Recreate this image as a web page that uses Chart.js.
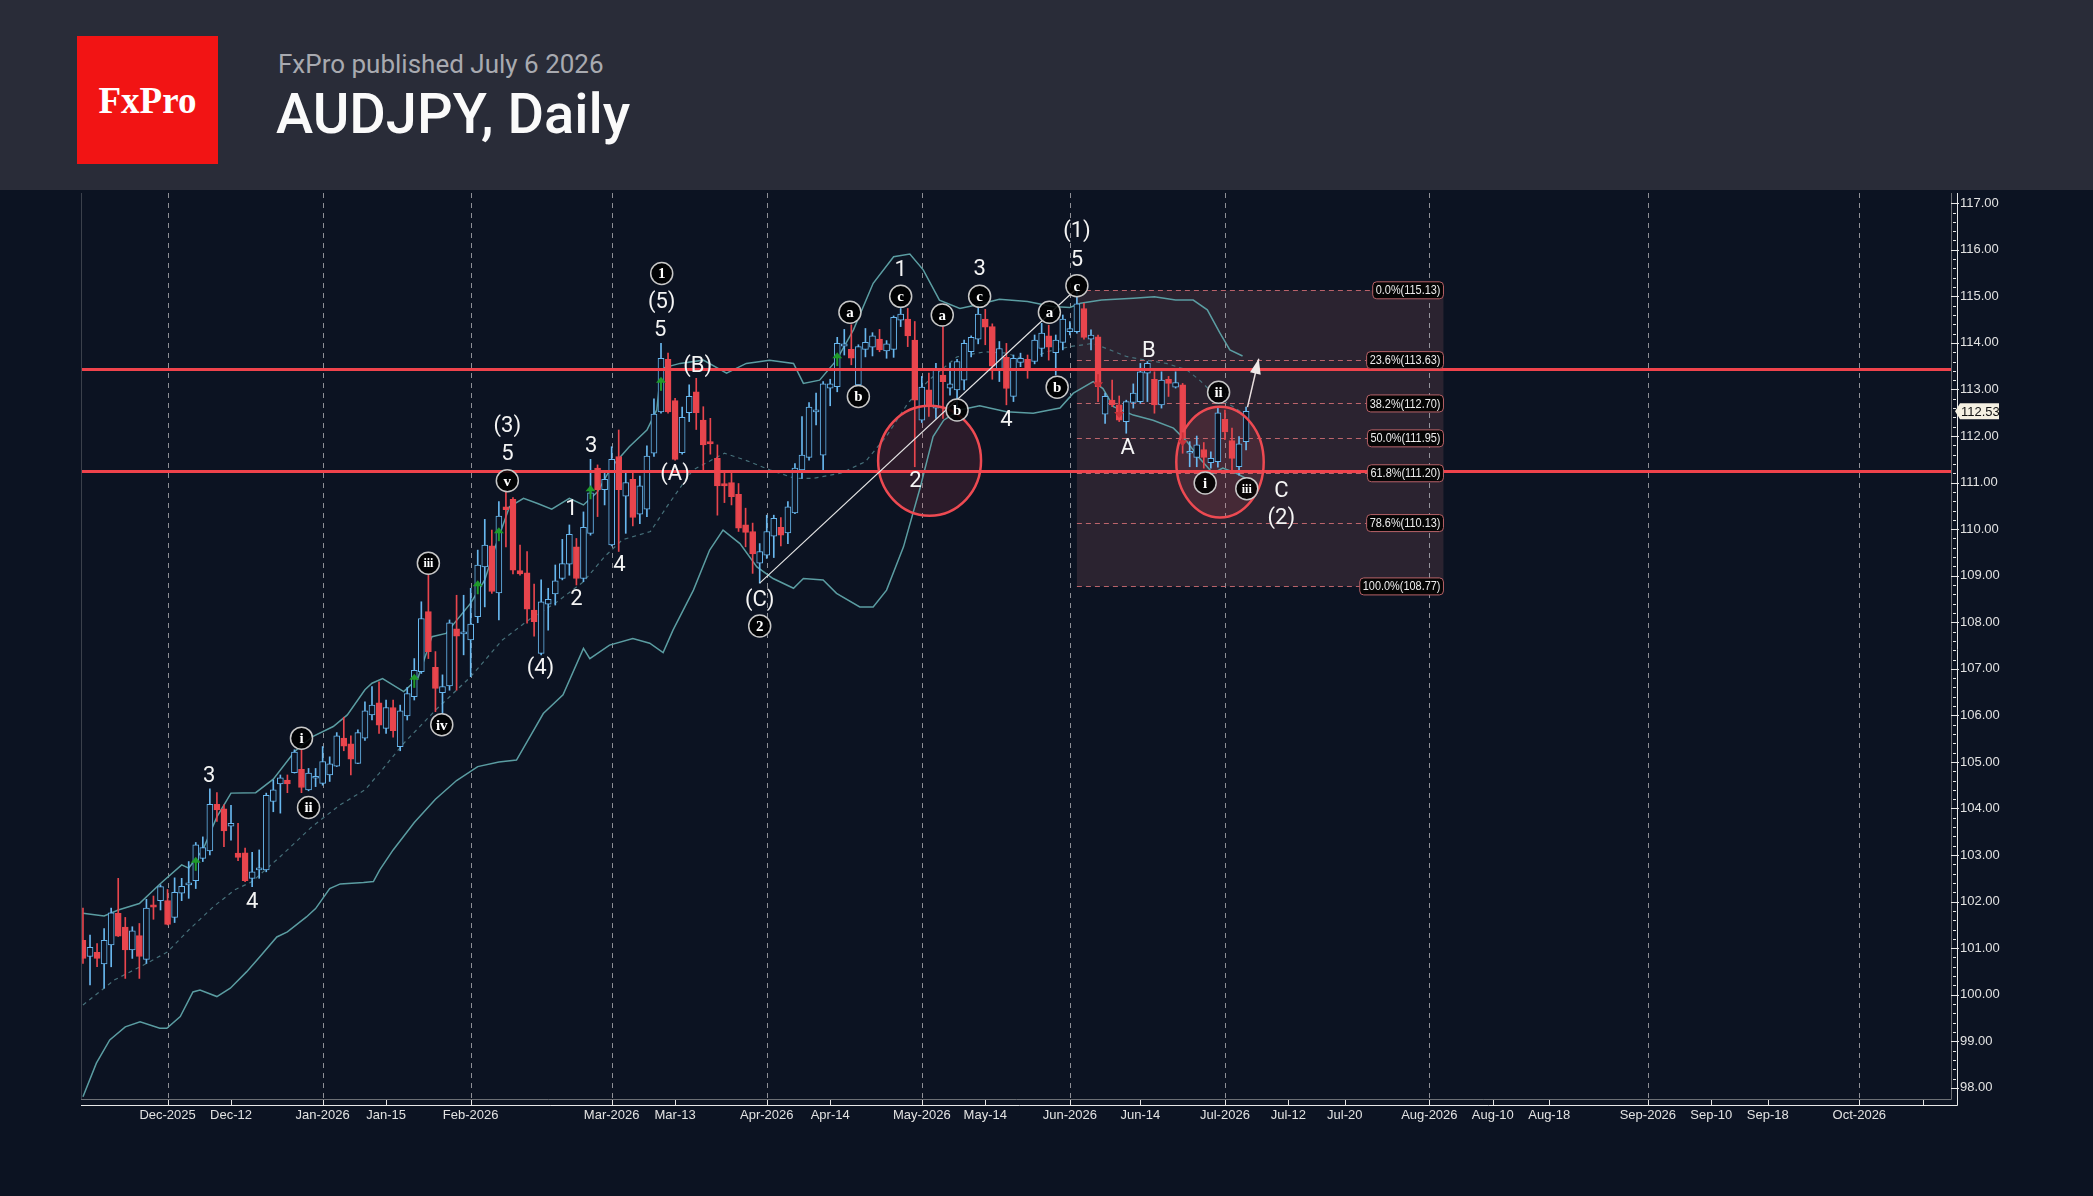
<!DOCTYPE html>
<html lang="en">
<head>
<meta charset="UTF-8" />
<title>AUDJPY, Daily</title>
<script src="https://cdn.jsdelivr.net/npm/chart.js@4.4.1/dist/chart.umd.min.js"></script>
<style>
  html, body { margin: 0; padding: 0; background: #0c1322; width: 2093px; height: 1196px; overflow: hidden; }
  #head { position: relative; height: 190px; background: #292c38; }
  #logo { position: absolute; left: 77px; top: 36px; width: 141px; height: 128px; background: #f21414;
          color: #fff; font-family: 'Liberation Serif', serif; font-size: 37px; font-weight: bold;
          display: flex; align-items: center; justify-content: center; }
  #pub { position: absolute; left: 278px; top: 51px; font-family: Roboto, sans-serif; font-size: 26px; line-height: 26px; color: #a8aab0; }
  #title { position: absolute; left: 276px; top: 86px; font-family: Roboto, sans-serif; font-weight: 500; font-size: 56px; line-height: 56px; color: #fafafa; }
  canvas { display: block; }
</style>
</head>
<body>
<div id="head">
  <div id="logo">FxPro</div>
  <div id="pub">FxPro published July 6 2026</div>
  <div id="title">AUDJPY, Daily</div>
</div>
<canvas id="chart" width="2093" height="1006"></canvas>

<script>
// daily candles, bar index 0 = Nov 13 2025 ... 165 = Jul 6 2026
const open = [
101.17,100.82,100.91,100.66,101.07,101.75,101.45,100.96,101.27,100.76,
101.93,102.02,102.02,101.66,102.18,102.36,102.45,102.93,103.09,104.09,
103.99,103.62,103.04,103.05,102.50,102.68,102.68,104.15,104.53,104.61,
104.77,104.84,104.40,104.65,104.54,104.72,104.91,105.51,105.39,104.97,
105.51,106.01,106.27,105.72,106.17,105.33,105.99,106.40,106.94,108.23,
107.03,106.49,106.63,107.86,107.75,107.62,108.12,109.19,109.64,108.63,
110.48,110.64,109.11,109.06,108.26,107.33,108.39,108.61,108.94,109.25,
109.62,108.94,109.91,111.31,110.85,109.66,111.56,110.71,111.07,110.32,
110.43,111.63,112.52,113.65,112.76,111.64,112.50,112.95,112.34,111.88,
111.52,110.98,111.00,110.75,110.09,109.95,109.27,109.44,109.85,110.04,
109.92,110.35,111.27,111.54,112.52,111.59,113.03,113.06,113.93,113.86,
113.10,113.86,113.91,114.08,113.83,113.86,114.49,114.51,114.06,112.34,
112.99,112.60,113.31,113.03,112.99,113.20,113.81,114.08,114.51,114.35,
113.43,113.69,112.85,113.58,113.65,113.60,113.88,114.15,113.79,114.01,
114.24,114.24,114.74,114.08,114.13,112.47,112.77,112.67,112.31,112.72,
112.74,113.35,113.22,112.67,113.22,113.05,113.10,111.63,111.54,111.71,
111.43,111.45,112.36,111.90,111.34,111.88];
const high = [
101.86,101.28,101.10,101.42,101.86,102.50,101.66,101.46,101.53,102.05,
102.12,102.36,102.26,102.51,102.50,102.86,103.27,103.39,104.42,104.34,
104.08,104.07,103.68,103.15,103.06,103.11,104.33,104.61,104.72,104.72,
105.26,105.26,104.86,104.86,105.33,105.11,105.63,105.96,105.56,105.69,
106.29,106.62,106.72,106.33,106.33,106.22,106.60,107.22,108.44,109.02,
107.37,106.87,108.05,108.58,108.58,108.73,109.55,110.21,109.98,110.59,
110.83,110.68,109.66,109.52,108.82,108.91,108.73,109.23,109.78,110.09,
109.80,110.37,111.50,111.38,111.26,111.77,112.13,111.23,111.26,111.14,
111.79,112.80,113.99,113.78,112.81,112.62,113.10,113.24,112.63,112.38,
111.81,111.20,111.21,110.98,110.45,110.13,109.69,110.30,110.30,110.25,
110.59,111.41,112.42,112.72,112.92,113.17,113.22,114.12,114.29,114.39,
113.96,114.31,114.22,114.29,114.05,114.58,114.74,114.74,114.46,113.28,
113.35,113.56,114.35,113.56,113.65,114.06,114.15,114.79,114.72,114.41,
114.03,113.99,113.74,113.78,113.74,114.17,114.42,114.38,114.17,114.60,
114.46,115.13,114.85,114.28,114.17,112.92,113.20,112.86,112.77,113.12,
113.56,113.60,113.38,113.38,113.28,113.38,113.13,111.88,112.00,111.86,
111.66,112.62,112.56,112.17,111.99,112.62];
const low = [
100.67,100.21,100.60,100.14,100.60,101.25,100.35,100.78,100.35,100.67,
101.62,101.82,101.50,101.55,102.02,102.07,102.28,102.86,103.00,103.72,
103.18,103.32,102.88,102.43,102.32,102.50,102.64,103.93,103.90,104.34,
104.76,104.34,104.38,104.47,104.50,104.58,104.90,105.24,104.72,104.96,
105.46,105.90,105.61,105.61,105.53,105.24,105.90,106.33,106.90,107.22,
106.08,106.01,106.54,106.54,107.30,106.83,107.99,108.33,108.62,108.05,
109.62,109.04,109.01,107.98,107.70,107.30,107.83,108.37,108.91,109.01,
108.80,108.87,109.87,110.27,110.52,109.64,109.52,109.91,110.07,110.12,
110.27,111.56,112.49,112.49,111.48,111.61,112.31,112.14,111.27,111.61,
110.30,110.57,110.52,109.95,109.62,109.05,108.84,109.37,109.39,109.64,
109.69,110.33,111.09,111.48,112.24,111.28,112.65,112.95,113.74,113.53,
113.06,113.70,113.72,113.81,113.67,113.69,114.35,113.92,111.34,112.29,
112.42,112.38,112.38,112.88,112.60,112.99,113.70,113.98,113.96,113.22,
113.17,112.67,112.74,113.49,113.24,113.55,113.71,113.63,113.31,113.85,
114.17,114.21,114.08,113.85,112.74,112.27,112.63,112.31,112.06,112.60,
112.70,112.74,112.49,112.60,112.85,113.03,111.63,111.34,111.34,111.31,
111.31,111.33,111.92,111.27,111.16,111.70];
const close = [
100.78,101.02,100.78,101.17,101.76,101.26,100.96,101.37,100.82,101.86,
101.88,102.32,101.51,102.20,102.33,102.39,103.22,103.16,104.09,103.97,
103.52,103.68,102.95,102.45,102.64,102.71,104.28,104.40,104.66,104.53,
105.21,104.45,104.76,104.68,105.01,104.96,105.56,105.34,105.06,105.63,
106.10,106.22,105.79,106.17,105.67,106.10,106.47,106.97,108.08,107.37,
106.58,106.62,107.99,107.70,107.79,107.96,109.23,109.66,108.66,110.28,
110.42,109.12,109.04,108.28,108.01,108.44,108.49,108.89,109.26,109.89,
108.94,110.04,110.78,110.85,111.07,111.50,110.85,111.00,110.25,110.93,
111.57,112.47,113.67,112.52,111.50,112.40,112.85,112.50,111.81,111.83,
110.93,110.93,110.70,110.02,109.93,109.47,109.52,109.95,110.23,109.87,
110.48,111.31,111.59,112.62,112.56,113.12,113.12,113.99,113.98,113.67,
113.92,114.01,114.15,113.85,113.98,114.55,114.62,114.15,112.77,113.05,
112.67,113.42,113.17,113.12,113.60,113.99,114.12,114.62,114.34,113.50,
113.88,113.02,113.67,113.67,113.46,114.06,114.21,113.91,114.06,114.51,
114.31,114.84,114.12,114.17,113.06,112.85,112.67,112.34,112.74,112.92,
113.38,113.56,112.67,113.20,113.13,113.15,111.95,111.66,111.81,111.54,
111.52,112.50,112.09,111.52,111.83,112.53];

// Bollinger bands: [bar index, price]
const bbUpper = [[0,101.75],[3,101.69],[5,101.82],[8,101.96],[11,102.39],[14,102.79],[15,102.72],[17,103.11],
  [19,103.82],[21,104.33],[24.5,104.34],[27,104.63],[30,105.22],[32.5,105.54],[35.5,105.76],[37.5,106.01],
  [40,106.55],[41,106.69],[42.5,106.79],[45.5,106.51],[47.5,106.79],[49.5,107.69],[51.5,107.76],[55,108.41],
  [57,108.91],[58.5,109.62],[60.5,110.48],[62.5,110.66],[64.5,110.55],[66.5,110.43],[69,110.66],[71,110.52],
  [73,110.80],[75,111.34],[77.5,111.77],[80,112.13],[81.4,112.56],[82,113.45],[84.7,113.56],[88,113.63],
  [91.3,113.35],[94.1,113.56],[97.4,113.63],[100.8,113.56],[102.2,113.13],[104.5,113.20],[106.9,113.63],
  [109.3,114.28],[112.1,115.28],[115,115.85],[117.3,115.91],[119.2,115.57],[121.5,114.92],[124.4,114.74],
  [127.2,114.83],[130,114.94],[134,114.89],[137.5,114.78],[140,114.76],[141.5,114.85],[144.5,114.92],
  [149,114.96],[152,114.99],[155,114.92],[157.5,114.92],[159.5,114.71],[161.3,114.21],[162.7,113.85],[164.5,113.72]];
const bbMiddle = [[0,99.78],[4.5,100.32],[9,100.67],[12,100.92],[15,101.39],[18.5,101.89],[21.5,102.25],[24,102.43],
  [28,102.97],[32.5,103.61],[36.5,104.08],[40,104.40],[42,104.75],[45.5,105.40],[50,106.11],[55,106.83],
  [59.5,107.62],[63.5,108.08],[67,108.41],[71,108.87],[74,109.41],[76.5,109.77],[80.5,109.95],[83,110.52],
  [86.5,111.27],[91,111.63],[94,111.48],[97.5,111.27],[101,111.09],[103.5,111.09],[107.5,111.20],[111,111.45],
  [114,112.00],[117,112.70],[120,113.20],[124,113.70],[128,113.81],[131,113.78],[134,113.63],[136.7,113.81],
  [140,113.92],[143.3,113.99],[145.7,113.85],[148,113.71],[150.8,113.63],[153.7,113.56],[156.6,113.42],
  [158.4,113.20],[160.3,112.92],[162,112.74],[165,112.45]];
const bbLower = [[0,97.81],[1.9,98.53],[3.8,99.03],[6,99.31],[8.1,99.42],[10.9,99.28],[11.9,99.28],[13.8,99.53],
  [15.6,100.06],[16.6,100.10],[19,99.96],[20.9,100.14],[23.2,100.49],[25,100.80],[27.5,101.24],[29,101.35],
  [31.7,101.67],[33,101.85],[35,102.28],[36.5,102.38],[39.8,102.41],[41.2,102.43],[42.1,102.68],[44,103.11],
  [47,103.70],[50,104.20],[53,104.60],[56,104.90],[59,105.00],[61.5,105.04],[65.3,106.04],[68.1,106.44],
  [71,107.44],[71.9,107.22],[74.7,107.51],[78,107.65],[80.4,107.55],[82.3,107.35],[83.7,107.83],[86.6,108.69],
  [88.9,109.55],[90.8,109.98],[93.2,109.69],[95.6,109.19],[97.9,108.94],[100.8,108.73],[102.2,108.94],
  [105,108.91],[106.9,108.62],[110.2,108.33],[112.1,108.33],[114,108.69],[116.4,109.62],[118.8,110.91],
  [120.6,111.99],[122.1,112.34],[124.4,112.56],[127.2,112.65],[131,112.52],[134.8,112.49],[138.6,112.60],
  [140.5,112.92],[143.3,113.17],[144.7,113.02],[146.2,112.63],[149,112.45],[151.8,112.34],[154.7,112.17],
  [156.6,111.88],[158.4,111.52],[160.3,111.20],[161.7,111.31],[163.6,111.20],[165,111.09]];

// horizontal support / resistance
const levels = [113.43, 111.24];

// fibonacci retracement
const fibText = ['0.0%', '23.6%', '38.2%', '50.0%', '61.8%', '78.6%', '100.0%'];
const fibPrice = [115.13, 113.63, 112.70, 111.95, 111.20, 110.13, 108.77];
const fibFrom = 141, fibTo = 193;

// axis ticks
const xTickPos = [12, 21, 34, 43, 55, 75, 84, 97, 106, 119, 128, 140, 150, 162, 171, 179, 191, 200, 208, 222, 231, 239, 252, 261];
const xTickText = ['Dec-2025', 'Dec-12', 'Jan-2026', 'Jan-15', 'Feb-2026', 'Mar-2026', 'Mar-13', 'Apr-2026', 'Apr-14',
  'May-2026', 'May-14', 'Jun-2026', 'Jun-14', 'Jul-2026', 'Jul-12', 'Jul-20', 'Aug-2026', 'Aug-10', 'Aug-18',
  'Sep-2026', 'Sep-10', 'Sep-18', 'Oct-2026', ''];
const monthPos = [12, 34, 55, 75, 97, 119, 140, 162, 191, 222, 252];
const priceTicks = [98, 99, 100, 101, 102, 103, 104, 105, 106, 107, 108, 109, 110, 111, 112, 113, 114, 115, 116, 117];

// wave count labels
const waveText = ['3', '4', 'i', 'ii', 'iii', 'iv', '(3)', '5', 'v', '1', '2', '3', '4', '(4)', '1', '(5)', '5', '(B)', '(A)',
  '(C)', '2', 'a', 'b', '1', 'c', '2', 'a', 'b', '3', 'c', '4', 'a', 'b', '(1)', '5', 'c', 'B', 'A', 'ii', 'i', 'iii', 'C', '(2)'];
const waveX = [17.9, 24.0, 31.0, 32.0, 49.0, 50.9, 60.2, 60.2, 60.2, 69.3, 70.0, 72.1, 76.1, 64.9, 82.1, 82.1, 81.9, 87.2, 84.0,
  96.0, 96.0, 108.8, 110.0, 116.0, 116.0, 118.1, 121.9, 124.0, 127.2, 127.2, 131.0, 137.1, 138.2, 141.0, 141.0, 141.0,
  151.2, 148.2, 161.1, 159.2, 165.1, 170.0, 170.0];
const waveY = [104.71, 102.01, 105.51, 104.02, 109.27, 105.80, 112.22, 111.62, 111.04, 110.44, 108.52, 111.79, 109.24, 107.03,
  115.49, 114.89, 114.28, 113.51, 111.19, 108.49, 107.92, 114.66, 112.85, 115.58, 115.00, 111.04, 114.60, 112.56, 115.60,
  115.00, 112.36, 114.66, 113.05, 116.41, 115.80, 115.23, 113.83, 111.76, 112.94, 110.99, 110.87, 110.84, 110.24];
const waveRing = [0, 0, 1, 1, 1, 1, 0, 0, 1, 0, 0, 0, 0, 0, 1, 0, 0, 0, 0, 0, 1, 1, 1, 0, 1, 0, 1, 1, 0, 1, 0, 1, 1, 0, 0, 1,
  0, 0, 1, 1, 1, 0, 0];

// highlight ellipses: centre index, centre price, half width (bars), half height (price)
const ringX = [120.1, 161.3];
const ringY = [111.47, 111.44];
const ringW = [7.3, 6.2];
const ringH = [1.18, 1.19];

// trend line and projection arrow
const trendLine = [[96, 108.84], [141.2, 115.2]];
const arrowLine = [[165.2, 112.62], [166.8, 113.66]];

// signal arrows
const sigX = [16, 47, 56, 59, 72, 82, 107, 144, 147, 156];
const sigY = [102.79, 106.72, 108.73, 109.87, 110.77, 113.10, 113.63, 113.20, 112.56, 111.95];
const sigUp = [1, 1, 1, 1, 1, 1, 1, 0, 0, 0];

const lastPrice = 112.53;

const BG = '#0c1322';
const UP = '#68b7ee';
const DOWN = '#e8454d';
const NARROW = "'Liberation Sans Narrow', 'Arial Narrow', 'Liberation Sans', sans-serif";

const isUp = open.map((o, i) => close[i] >= o);

// keep the plot box fixed: no automatic label padding
function fixBox(s, size) {
  if (s.isHorizontal()) s.height = size; else s.width = size;
  s.paddingLeft = 0; s.paddingRight = 0; s.paddingTop = 0; s.paddingBottom = 0;
}

// text squeezed horizontally, like the narrow font of the original
function narrowText(ctx, s, x, y, k) {
  ctx.save(); ctx.translate(x, y); ctx.scale(k, 1); ctx.fillText(s, 0, 0); ctx.restore();
}

const overlay = {
  id: 'overlay',
  beforeDatasetsDraw(chart) {
    const {ctx, chartArea: a, scales: {x, y}} = chart;
    ctx.save();
    // fib zone
    const bx0 = x.getPixelForValue(fibFrom), bx1 = x.getPixelForValue(fibTo);
    const by0 = y.getPixelForValue(fibPrice[0]), by1 = y.getPixelForValue(fibPrice[fibPrice.length - 1]);
    ctx.fillStyle = '#2b2330';
    ctx.fillRect(bx0, by0, bx1 - bx0, by1 - by0);
    // month separators
    ctx.strokeStyle = 'rgba(185,185,190,0.75)';
    ctx.lineWidth = 1;
    ctx.setLineDash([5, 5]);
    monthPos.forEach(m => {
      const px = Math.round(x.getPixelForValue(m)) + 0.5;
      ctx.beginPath(); ctx.moveTo(px, a.top); ctx.lineTo(px, a.bottom); ctx.stroke();
    });
    // fib dashed levels
    ctx.strokeStyle = 'rgba(214,112,118,0.85)';
    ctx.setLineDash([5, 4]);
    fibPrice.forEach(p => {
      const py = Math.round(y.getPixelForValue(p)) + 0.5;
      ctx.beginPath(); ctx.moveTo(bx0, py); ctx.lineTo(bx1 - 40, py); ctx.stroke();
    });
    ctx.setLineDash([]);
    // ellipse fill
    ringX.forEach((cx, i) => {
      const px = x.getPixelForValue(cx), py = y.getPixelForValue(ringY[i]);
      const rx = x.getPixelForValue(cx + ringW[i]) - px, ry = py - y.getPixelForValue(ringY[i] + ringH[i]);
      ctx.beginPath(); ctx.ellipse(px, py, rx, ry, 0, 0, Math.PI * 2);
      ctx.fillStyle = 'rgba(235,80,90,0.14)'; ctx.fill();
    });
    ctx.restore();
  },
  afterDatasetsDraw(chart) {
    const {ctx, chartArea: a, scales: {x, y}} = chart;
    ctx.save();
    // ellipse outline
    ringX.forEach((cx, i) => {
      const px = x.getPixelForValue(cx), py = y.getPixelForValue(ringY[i]);
      const rx = x.getPixelForValue(cx + ringW[i]) - px, ry = py - y.getPixelForValue(ringY[i] + ringH[i]);
      ctx.beginPath(); ctx.ellipse(px, py, rx, ry, 0, 0, Math.PI * 2);
      ctx.strokeStyle = '#ee4a52'; ctx.lineWidth = 2.5; ctx.stroke();
    });
    // trend line
    ctx.strokeStyle = '#e4e4e4'; ctx.lineWidth = 1.2;
    ctx.beginPath();
    ctx.moveTo(x.getPixelForValue(trendLine[0][0]), y.getPixelForValue(trendLine[0][1]));
    ctx.lineTo(x.getPixelForValue(trendLine[1][0]), y.getPixelForValue(trendLine[1][1]));
    ctx.stroke();
    // projection arrow
    const ax0 = x.getPixelForValue(arrowLine[0][0]), ay0 = y.getPixelForValue(arrowLine[0][1]);
    const ax1 = x.getPixelForValue(arrowLine[1][0]), ay1 = y.getPixelForValue(arrowLine[1][1]);
    const ang = Math.atan2(ay1 - ay0, ax1 - ax0);
    ctx.strokeStyle = '#e8dede'; ctx.fillStyle = '#f0e8e8'; ctx.lineWidth = 1.5;
    ctx.beginPath(); ctx.moveTo(ax0, ay0); ctx.lineTo(ax1, ay1); ctx.stroke();
    ctx.beginPath();
    ctx.moveTo(ax1, ay1);
    ctx.lineTo(ax1 - 16 * Math.cos(ang - 0.35), ay1 - 16 * Math.sin(ang - 0.35));
    ctx.lineTo(ax1 - 16 * Math.cos(ang + 0.35), ay1 - 16 * Math.sin(ang + 0.35));
    ctx.closePath(); ctx.fill();
    // signal arrows
    sigX.forEach((sx, i) => {
      const px = x.getPixelForValue(sx), py = y.getPixelForValue(sigY[i]);
      const d = sigUp[i] ? -1 : 1;
      ctx.strokeStyle = sigUp[i] ? '#1f9a2a' : '#c8323a';
      ctx.fillStyle = ctx.strokeStyle; ctx.lineWidth = 2;
      ctx.beginPath(); ctx.moveTo(px, py - d * 6); ctx.lineTo(px, py + d * 5); ctx.stroke();
      ctx.beginPath(); ctx.moveTo(px, py + d * 8); ctx.lineTo(px - 5, py + d * 2); ctx.lineTo(px + 5, py + d * 2); ctx.closePath(); ctx.fill();
    });
    // fib labels
    const bx1 = x.getPixelForValue(fibTo);
    const squeeze = 0.84;
    ctx.font = "13px " + NARROW;
    ctx.textBaseline = 'middle';
    ctx.textAlign = 'left';
    fibText.forEach((t, i) => {
      const s = t + '(' + fibPrice[i].toFixed(2) + ')';
      const w = ctx.measureText(s).width * squeeze + 6;
      const py = y.getPixelForValue(fibPrice[i]);
      ctx.beginPath();
      ctx.roundRect(bx1 - w, py - 8.5, w, 17, 4);
      ctx.fillStyle = '#050505'; ctx.fill();
      ctx.strokeStyle = '#b86268'; ctx.lineWidth = 1; ctx.stroke();
      ctx.fillStyle = '#eeeeee';
      narrowText(ctx, s, bx1 - w + 3, py + 0.5, squeeze);
    });
    // wave labels
    ctx.textAlign = 'center';
    waveText.forEach((t, i) => {
      const px = x.getPixelForValue(waveX[i]), py = y.getPixelForValue(waveY[i]);
      if (waveRing[i]) {
        ctx.beginPath(); ctx.arc(px, py, 11, 0, Math.PI * 2);
        ctx.fillStyle = 'rgba(0,0,0,0.88)'; ctx.fill();
        ctx.strokeStyle = '#c8c8c8'; ctx.lineWidth = 1.5; ctx.stroke();
        ctx.fillStyle = '#ffffff';
        ctx.font = "bold " + (t.length > 2 ? 12 : 15) + "px 'Liberation Serif', serif";
        ctx.fillText(t, px, py + 1);
      } else {
        ctx.fillStyle = '#f4f4f4';
        ctx.font = "22px Roboto, 'Liberation Sans', sans-serif";
        ctx.fillText(t, px, py + 1);
      }
    });
    // axis frame
    ctx.strokeStyle = '#3b404b'; ctx.lineWidth = 1;
    ctx.beginPath(); ctx.moveTo(a.left + 0.5, a.top); ctx.lineTo(a.left + 0.5, a.bottom); ctx.stroke();
    ctx.strokeStyle = '#6d7075';
    ctx.beginPath(); ctx.moveTo(a.left, a.bottom + 0.5); ctx.lineTo(a.right + 0.5, a.bottom + 0.5); ctx.lineTo(a.right + 0.5, a.top); ctx.stroke();
    ctx.strokeStyle = '#e8e8e8';
    ctx.beginPath(); ctx.moveTo(a.left, a.bottom + 6.5); ctx.lineTo(a.right + 6.5, a.bottom + 6.5); ctx.lineTo(a.right + 6.5, a.top); ctx.stroke();
    xTickPos.forEach(v => {
      const px = Math.round(x.getPixelForValue(v)) + 0.5;
      ctx.beginPath(); ctx.moveTo(px, a.bottom + 1); ctx.lineTo(px, a.bottom + 6); ctx.stroke();
    });
    for (let p = 98; p <= 117.2; p += 0.2) {
      const py = Math.round(y.getPixelForValue(p)) + 0.5;
      const major = Math.abs(p - Math.round(p)) < 0.01;
      ctx.beginPath(); ctx.moveTo(a.right + (major ? 0 : 2), py); ctx.lineTo(a.right + (major ? 8 : 5), py); ctx.stroke();
    }
    // last price tag
    const ly = y.getPixelForValue(lastPrice);
    const lx = a.right + 8;
    ctx.beginPath();
    ctx.moveTo(lx - 4, ly); ctx.lineTo(lx + 1, ly - 8); ctx.lineTo(lx + 40, ly - 8);
    ctx.lineTo(lx + 40, ly + 8); ctx.lineTo(lx + 1, ly + 8); ctx.closePath();
    ctx.fillStyle = '#f4f0e2'; ctx.fill();
    ctx.fillStyle = '#111'; ctx.font = "13px " + NARROW; ctx.textAlign = 'left';
    ctx.fillText(lastPrice.toFixed(2), lx + 2, ly + 1);
    ctx.restore();
  }
};

const ctx = document.getElementById('chart').getContext('2d');
const chart = new Chart(ctx, {
  type: 'bar',
  data: {
    datasets: [
      { type: 'line', data: bbUpper.map(p => ({x: p[0], y: p[1]})), borderColor: '#5b9da2', borderWidth: 1.5, pointRadius: 0, order: 10 },
      { type: 'line', data: bbMiddle.map(p => ({x: p[0], y: p[1]})), borderColor: '#46707a', borderWidth: 1.2, borderDash: [4, 4], pointRadius: 0, order: 10 },
      { type: 'line', data: bbLower.map(p => ({x: p[0], y: p[1]})), borderColor: '#5b9da2', borderWidth: 1.5, pointRadius: 0, order: 10 },
      { label: 'wick', data: open.map((o, i) => ({x: i, y: [low[i], high[i]]})),
        backgroundColor: isUp.map(u => u ? UP : DOWN), barThickness: 1, grouped: false, order: 8 },
      { label: 'body', data: open.map((o, i) => ({x: i, y: [Math.min(o, close[i]), Math.max(o, close[i])]})),
        backgroundColor: isUp.map(u => u ? BG : DOWN), borderColor: isUp.map(u => u ? UP : DOWN),
        borderWidth: 1, borderSkipped: false, barThickness: 6, minBarLength: 2, grouped: false, order: 6 },
      { type: 'line', data: [{x: -1, y: levels[0]}, {x: 266, y: levels[0]}], borderColor: '#f0434c', borderWidth: 3, pointRadius: 0, order: 1 },
      { type: 'line', data: [{x: -1, y: levels[1]}, {x: 266, y: levels[1]}], borderColor: '#f0434c', borderWidth: 3, pointRadius: 0, order: 1 }
    ]
  },
  options: {
    responsive: false,
    animation: false,
    layout: { autoPadding: false, padding: { left: 81, top: 3, right: 0, bottom: 0 } },
    plugins: { legend: { display: false }, tooltip: { enabled: false } },
    scales: {
      x: {
        type: 'linear', min: -0.28, max: 265, offset: false,
        afterBuildTicks: s => { s.ticks = xTickPos.map(v => ({value: v})); },
        afterFit: s => fixBox(s, 97),
        ticks: { callback: (v, i) => xTickText[i], color: '#e2e2e2', font: { family: NARROW, size: 13 }, maxRotation: 0, autoSkip: false, padding: 9 },
        grid: { display: false, drawTicks: false, offset: false },
        border: { display: false }
      },
      y: {
        position: 'right', min: 97.76, max: 117.22,
        afterBuildTicks: s => { s.ticks = priceTicks.map(v => ({value: v})); },
        afterFit: s => fixBox(s, 142),
        ticks: { callback: v => v.toFixed(2), color: '#e2e2e2', font: { family: NARROW, size: 13 }, padding: 9 },
        grid: { display: false, drawTicks: false },
        border: { display: false }
      }
    }
  },
  plugins: [overlay]
});
</script>
</body>
</html>
